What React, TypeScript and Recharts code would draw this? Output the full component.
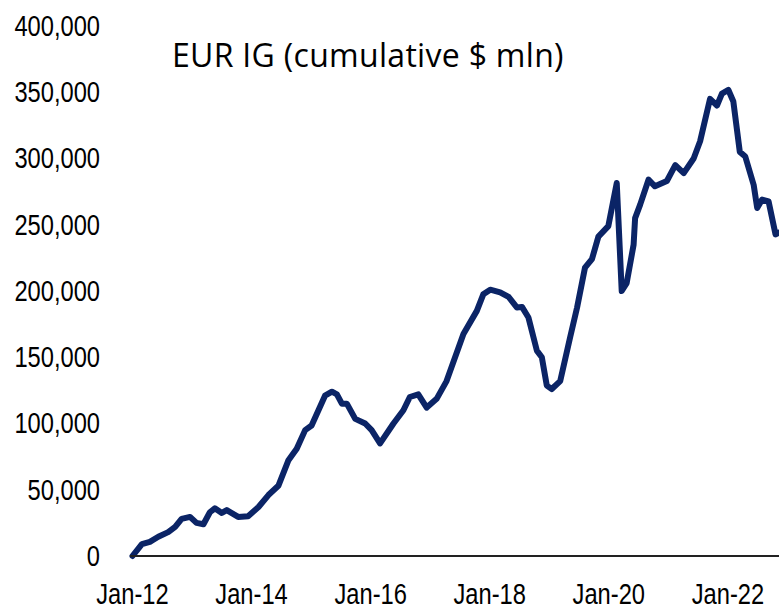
import { LineChart, Line, XAxis, YAxis } from 'recharts'

// months since Jan-2012
const monthIdx = [
  0, 1.9, 3.5, 5.2, 7.2, 8.6, 9.9, 11.6, 12.9, 14.3, 15.6, 16.6, 18, 19, 21.3, 23.3,
  25.4, 27.4, 29.4, 31.4, 33.1, 34.8, 36.1, 38.8, 40.2, 41.2, 42.2, 43.2, 44.9, 46.9,
  48.2, 49.9, 52.6, 54.6, 55.9, 57.6, 59.3, 61.3, 63.3, 66.7, 69.4, 70.7, 72.1, 74.1,
  75.8, 77.5, 78.5, 79.8, 81.5, 82.5, 83.5, 84.5, 86.2, 88.2, 89.6, 91.2, 92.6, 93.9,
  95.9, 97.6, 98.6, 99.6, 101, 101.3, 102.3, 104, 105.3, 107.7, 109.4, 111.1, 113.1,
  114.4, 116.4, 117.8, 118.8, 120.1, 121.1, 122.4, 123.5, 125.2, 125.9, 126.9, 128.2,
  129.6, 130.2,
]

// cumulative flows, $ mln
const eurIg = [
  0, 9000, 10700, 14500, 18000, 22000, 28000, 29500, 25000, 24000, 33000, 36000, 32500,
  34600, 29500, 30000, 37000, 46000, 53000, 72000, 81000, 95000, 98500, 121000, 124000,
  122000, 115000, 115000, 103500, 100000, 95000, 85000, 100000, 110000, 120000, 122000,
  112000, 118600, 132000, 167500, 185000, 197500, 201000, 199000, 195500, 187500, 188000,
  180000, 155000, 150000, 128600, 126000, 132000, 165000, 187500, 217600, 224000, 241000,
  249000, 281500, 200000, 206000, 235000, 255000, 265000, 284000, 279000, 283000, 295000,
  289000, 300000, 313000, 345000, 340000, 349000, 351700, 343000, 305000, 301500, 280000,
  262700, 269000, 267700, 242700, 244000,
]

const xTicks = [0, 24, 48, 72, 96, 120]
const xTickLabels = ['Jan-12', 'Jan-14', 'Jan-16', 'Jan-18', 'Jan-20', 'Jan-22']
const yTicks = [0, 50000, 100000, 150000, 200000, 250000, 300000, 350000, 400000]

const data = monthIdx.map((m, i) => ({ m, v: eurIg[i] }))

const TICK_FONT = '"Liberation Sans", Arial, sans-serif'

function YTick({ x, y, payload }: any) {
  return (
    <g transform={`translate(${x},${y}) scale(0.79,1)`}>
      <text x={0} y={0} textAnchor="end" dominantBaseline="central" fontSize={30} fontFamily={TICK_FONT} fill="#000">
        {payload.value.toLocaleString('en-US')}
      </text>
    </g>
  )
}

function XTick({ x, y, payload }: any) {
  const label = xTickLabels[xTicks.indexOf(payload.value)]
  return (
    <g transform={`translate(${x},${y}) scale(0.79,1)`}>
      <text x={0} y={0} textAnchor="middle" dominantBaseline="central" fontSize={30} fontFamily={TICK_FONT} fill="#000">
        {label}
      </text>
    </g>
  )
}

export default function App() {
  return (
    <div style={{ position: 'absolute', left: 0, top: 0, width: 779, height: 610, background: '#fff' }}>
      <div
        style={{
          position: 'absolute',
          left: 172,
          top: 37,
          fontFamily: '"Open Sans", sans-serif',
          fontSize: 32,
          letterSpacing: 0.3,
          lineHeight: '36px',
          color: '#000',
          whiteSpace: 'nowrap',
          zIndex: 1,
        }}
      >
        EUR IG (cumulative $ mln)
      </div>
      <LineChart width={779} height={610} data={data} margin={{ top: 26, right: 0, bottom: 0, left: 0 }}>
        <XAxis
          dataKey="m"
          type="number"
          domain={[-0.5, 130.3]}
          ticks={xTicks}
          tick={<XTick />}
          tickLine={false}
          tickMargin={32}
          height={54}
          axisLine={{ stroke: '#222', strokeWidth: 2 }}
        />
        <YAxis
          domain={[0, 400000]}
          ticks={yTicks}
          tick={<YTick />}
          tickLine={false}
          axisLine={false}
          tickMargin={24}
          width={130}
        />
        <Line
          type="linear"
          dataKey="v"
          stroke="#0b2466"
          strokeWidth={6}
          strokeLinejoin="round"
          strokeLinecap="round"
          dot={false}
          isAnimationActive={false}
        />
      </LineChart>
    </div>
  )
}
